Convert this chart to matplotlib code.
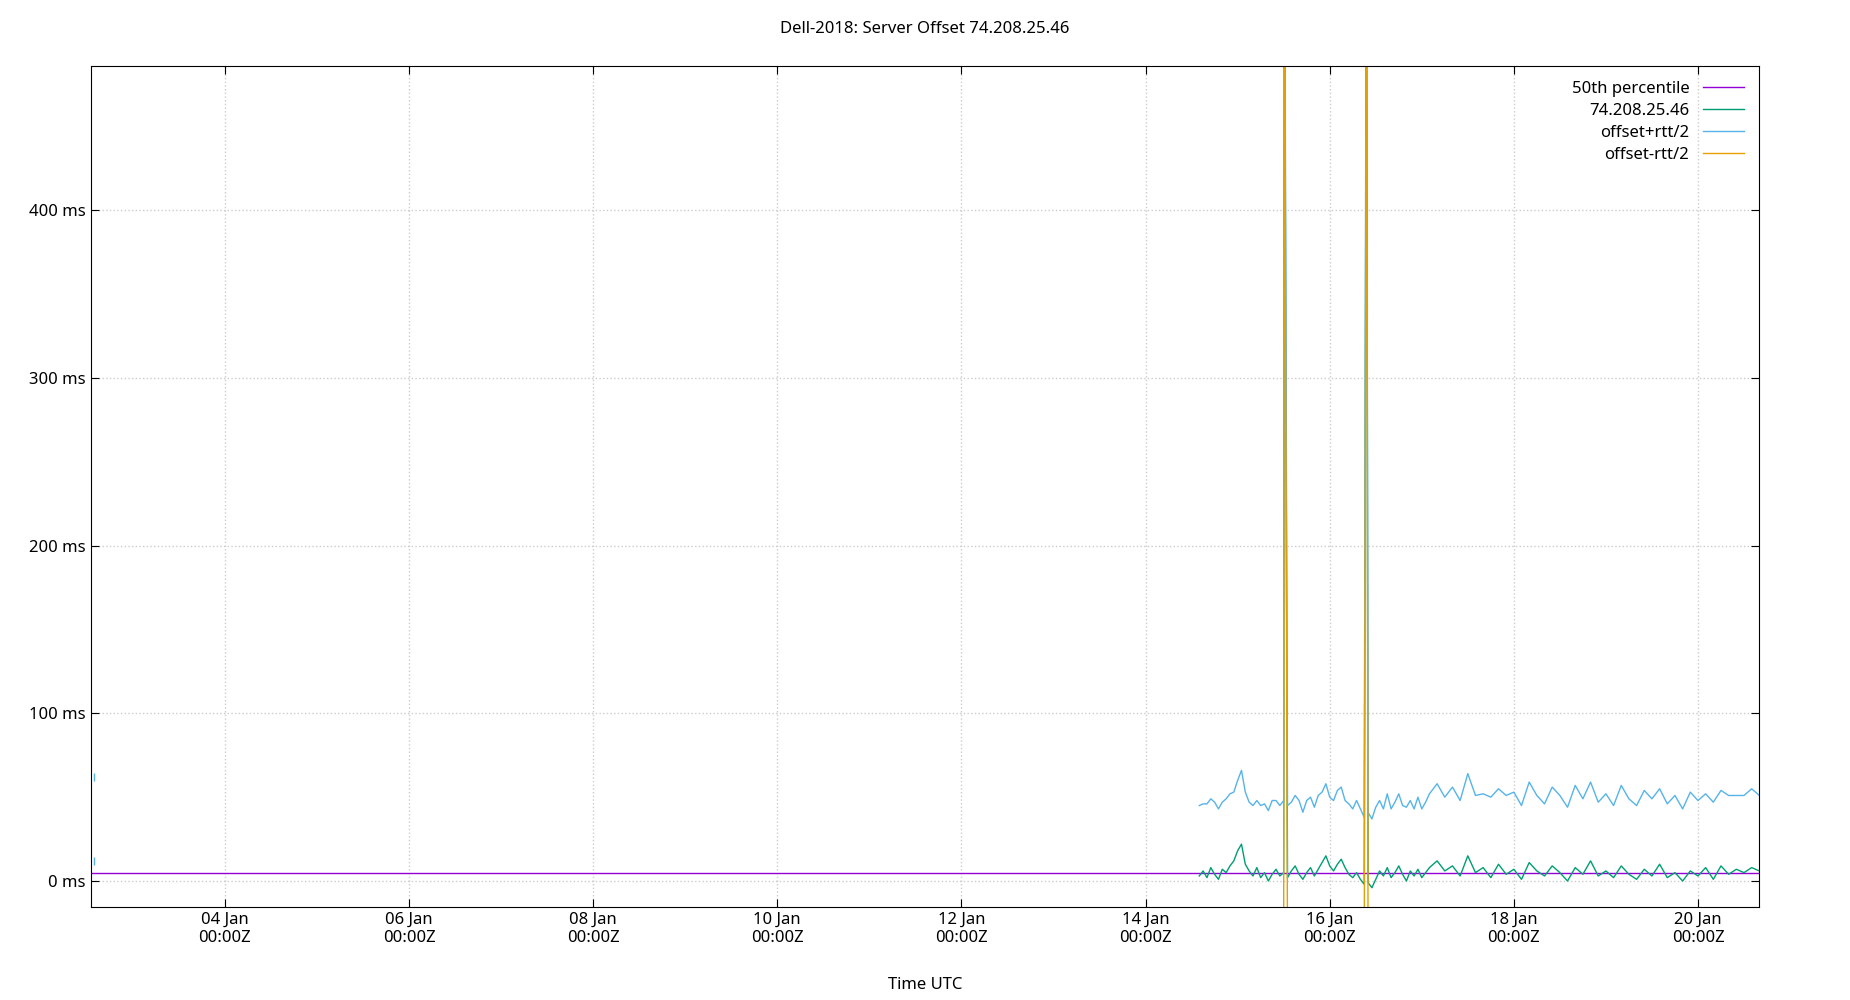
import datetime as dt
import matplotlib
matplotlib.use("Agg")
import matplotlib.pyplot as plt
import matplotlib.dates as mdates
import numpy as np

plt.rcParams['font.family'] = ['Noto Sans', 'DejaVu Sans']

# median offset (ms) over the whole span
median_ms = 4.8
span_start = dt.datetime(2024, 1, 2, 13, 0)
span_end = dt.datetime(2024, 1, 20, 16, 0)

# dense section: hourly samples from 14 Jan 14:00
dense_start = dt.datetime(2024, 1, 14, 14, 0)
dense_offset = [3, 6, 2, 8, 4, 1, 7, 5, 9, 12, 18, 22, 10, 6, 3, 8, 2, 5, 0, 4, 7, 3,
                5,
                2, 6, 9, 4, 1, 5, 8, 3, 7, 11, 15, 9, 6, 10, 13, 8, 4, 2, 5, 1, -2,
                -1,
                -4, 1, 6, 3, 8, 2, 5, 9, 4, 0, 6, 3, 7, 2, 5, 8]
dense_rtt2 = [42, 40, 44, 41, 43, 42, 40, 44, 43, 41, 42, 44, 43, 41, 42, 40, 43, 41, 42, 44, 41, 42,
              43,
              43, 41, 42, 44, 40, 43, 42, 41, 44, 42, 43, 41, 42, 44, 43, 40, 42, 41, 43, 42, 40,
              42,
              41, 43, 42, 40, 44, 41, 42, 43, 41, 44, 42, 40, 43, 41, 42, 44]
# sparse section: two-hourly samples from 17 Jan 04:00
sparse_start = dt.datetime(2024, 1, 17, 4, 0)
sparse_offset = [12, 6, 9, 3, 15, 5, 8, 2, 10, 4, 7, 1, 11, 6, 3, 9, 5, 0, 8, 4, 12, 3,
                 6, 2, 9, 4, 1, 7, 3, 10, 2, 5, 0, 6, 3, 8, 1, 9, 4, 7, 5, 8, 6]
sparse_rtt2 = [46, 44, 47, 45, 49, 46, 44, 48, 45, 47, 46, 44, 48, 45, 43, 47, 46, 44, 49, 45, 47, 44,
               46, 43, 48, 45, 44, 47, 46, 45, 44, 46, 43, 47, 45, 44, 46, 45, 47, 44, 46, 47, 45]

# two outlier samples (offset, rtt/2)
spike_time = [dt.datetime(2024, 1, 15, 12, 10), dt.datetime(2024, 1, 16, 9, 35)]
spike_offset = [600, 600]
spike_rtt2 = [50, 50]

# stray samples at the left edge
early_time = [dt.datetime(2024, 1, 2, 14, 0)]
early_plus = [62]
early_plus2 = [12]

t_dense = [dense_start + dt.timedelta(hours=i) for i in range(len(dense_offset))]
t_sparse = [sparse_start + dt.timedelta(hours=2 * i) for i in range(len(sparse_offset))]
rows = sorted(zip(t_dense + t_sparse + spike_time,
                  dense_offset + sparse_offset + spike_offset,
                  dense_rtt2 + sparse_rtt2 + spike_rtt2))
times = [r[0] for r in rows]
offset = np.array([r[1] for r in rows], dtype=float)
rtt2 = np.array([r[2] for r in rows], dtype=float)

fig = plt.figure(figsize=(18.5, 10), dpi=100)
ax = fig.add_axes([0.049, 0.093, 0.902, 0.841])

ax.plot([span_start, span_end], [median_ms, median_ms], color='#9400d3', lw=1, label='50th percentile')
ax.plot(times, offset, color='#009e73', lw=1, label='74.208.25.46')
ax.plot(times, offset + rtt2, color='#56b4e9', lw=1, label='offset+rtt/2')
ax.plot(times, offset - rtt2, color='#e69f00', lw=1, label='offset-rtt/2')
ax.plot(early_time * 2, early_plus + early_plus2, '|', color='#56b4e9', ms=6)

ax.set_xlim(span_start, span_end)
ax.set_ylim(-15.5, 486)
ax.set_yticks([0, 100, 200, 300, 400])
ax.set_yticklabels([f'{v} ms' for v in [0, 100, 200, 300, 400]])
ax.xaxis.set_major_locator(mdates.DayLocator(bymonthday=[4, 6, 8, 10, 12, 14, 16, 18, 20]))
ax.xaxis.set_major_formatter(mdates.DateFormatter('%d %b\n%H:%MZ'))
ax.tick_params(direction='in', top=True, right=True, labelsize=12, length=6)
ax.grid(True, color='#cccccc', linestyle=':', lw=1)
ax.set_xlabel('Time UTC', fontsize=12, labelpad=22)
ax.set_title('Dell-2018: Server Offset 74.208.25.46', fontsize=12, pad=24)

ax.legend(loc='upper right', frameon=False, markerfirst=False, fontsize=12,
          handlelength=2.5, labelspacing=0.35, borderaxespad=0.5)

fig.savefig('out.png', dpi=100)
